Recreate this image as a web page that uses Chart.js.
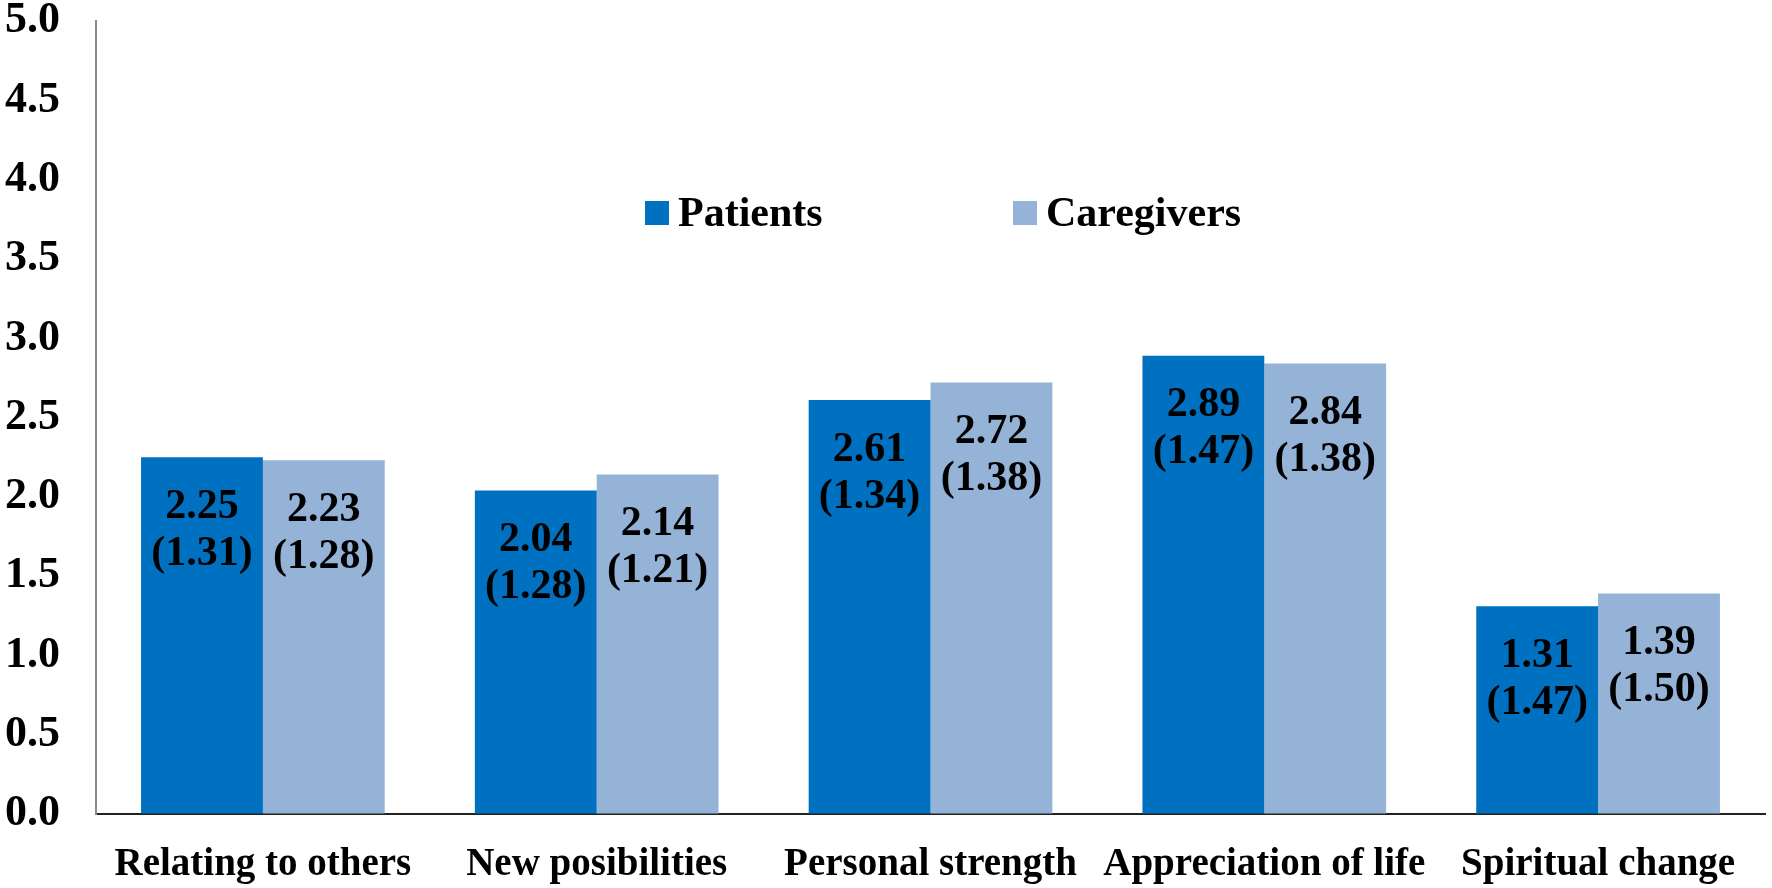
<!DOCTYPE html>
<html lang="en">
<head>
  <meta charset="UTF-8" />
  <title>PTGI domains: patients vs caregivers</title>
  <script src="https://cdn.jsdelivr.net/npm/chart.js"></script>
  <style>
    html, body { margin: 0; padding: 0; background: #fff; }
    #chartCanvas { display: block; }
  </style>
</head>
<body>
  <canvas id="chartCanvas" width="1772" height="888"></canvas>

  <script>
    const categories = ['Relating to others', 'New posibilities', 'Personal strength', 'Appreciation of life', 'Spiritual change'];
    const patientsMean = [2.25, 2.04, 2.61, 2.89, 1.31];
    const patientsSD = [1.31, 1.28, 1.34, 1.47, 1.47];
    const caregiversMean = [2.23, 2.14, 2.72, 2.84, 1.39];
    const caregiversSD = [1.28, 1.21, 1.38, 1.38, 1.50];
    const yTicks = [0, 0.5, 1, 1.5, 2, 2.5, 3, 3.5, 4, 4.5, 5];

    const serif = '"Liberation Serif", "Times New Roman", serif';
    const sdLists = [patientsSD, caregiversSD];

    // mean + (sd) written inside the top of each bar
    const barLabels = {
      id: 'barLabels',
      afterDatasetsDraw(chart) {
        const ctx = chart.ctx;
        ctx.save();
        ctx.fillStyle = '#000';
        ctx.font = 'bold 42px ' + serif;
        ctx.textAlign = 'center';
        ctx.textBaseline = 'middle';
        chart.data.datasets.forEach((ds, di) => {
          chart.getDatasetMeta(di).data.forEach((bar, i) => {
            ctx.fillText(ds.data[i].toFixed(2), bar.x, bar.y + 50);
            ctx.fillText('(' + sdLists[di][i].toFixed(2) + ')', bar.x, bar.y + 97);
          });
        });
        ctx.restore();
      }
    };

    // legend sits inside the plot, like the original
    const innerLegend = {
      id: 'innerLegend',
      afterDraw(chart) {
        const ctx = chart.ctx;
        const spots = [645, 1013];
        ctx.save();
        ctx.font = 'bold 42px ' + serif;
        ctx.textBaseline = 'middle';
        ctx.textAlign = 'left';
        chart.data.datasets.forEach((ds, di) => {
          const x = spots[di];
          ctx.fillStyle = ds.backgroundColor;
          ctx.fillRect(x, 201, 24, 24);
          ctx.fillStyle = '#000';
          ctx.fillText(ds.label, x + 33, 215);
        });
        ctx.restore();
      }
    };

    new Chart(document.getElementById('chartCanvas'), {
      type: 'bar',
      data: {
        labels: categories,
        datasets: [
          { label: 'Patients', data: patientsMean, backgroundColor: '#0070C0', categoryPercentage: 0.73, barPercentage: 1.0 },
          { label: 'Caregivers', data: caregiversMean, backgroundColor: '#95B3D7', categoryPercentage: 0.73, barPercentage: 1.0 }
        ]
      },
      options: {
        responsive: false,
        animation: false,
        devicePixelRatio: 1,
        layout: { padding: { top: 21, right: 7, bottom: 0, left: 0 } },
        plugins: { legend: { display: false }, tooltip: { enabled: false } },
        scales: {
          x: {
            grid: { drawOnChartArea: false, drawTicks: false },
            border: { display: true, color: '#222', width: 2 },
            ticks: { color: '#000', font: { family: serif, size: 39, weight: 'bold' }, padding: 28, maxRotation: 0 },
            afterFit: (scale) => { scale.height = 74; scale.paddingLeft = 0; scale.paddingRight = 0; }
          },
          y: {
            min: 0,
            max: 5,
            afterBuildTicks: (scale) => { scale.ticks = yTicks.map(v => ({ value: v })); },
            grid: { drawOnChartArea: false, drawTicks: false },
            border: { display: true, color: '#8a8a8a', width: 2 },
            ticks: { color: '#000', font: { family: serif, size: 44, weight: 'bold' }, padding: 36, callback: v => v.toFixed(1) },
            afterFit: (scale) => { scale.width = 96; scale.paddingTop = 0; scale.paddingBottom = 0; }
          }
        }
      },
      plugins: [barLabels, innerLegend]
    });
  </script>
</body>
</html>
